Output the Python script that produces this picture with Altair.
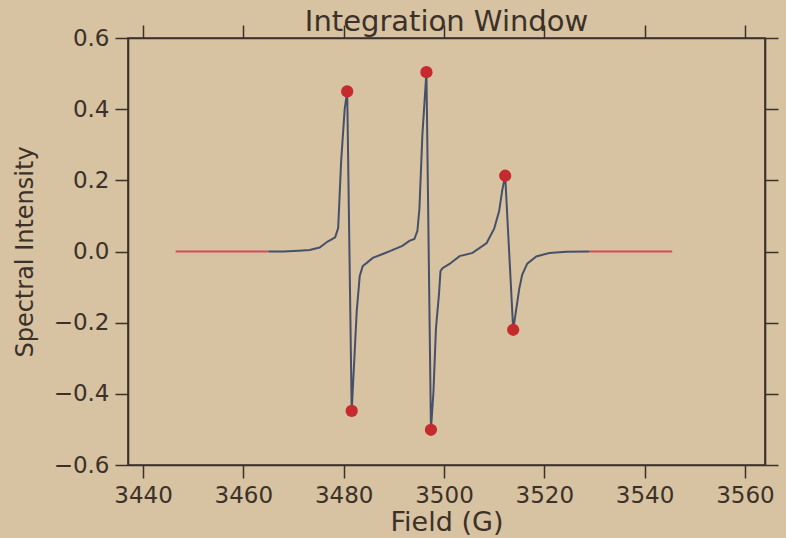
import altair as alt
import pandas as pd

# Derivative EPR spectrum inside the integration window
window_field = [
    3465.0, 3468.0, 3471.0, 3473.2, 3475.2, 3476.8, 3477.6, 3478.3, 3478.9,
    3479.5, 3480.2, 3480.7, 3481.6, 3482.2, 3482.6, 3483.2, 3483.8, 3484.6,
    3485.8, 3487.8, 3489.2, 3491.7, 3493.1, 3494.1, 3494.7, 3495.1, 3495.7,
    3496.5, 3497.4, 3497.9, 3498.4, 3499.0, 3499.3, 3499.7, 3501.1, 3503.1,
    3505.7, 3508.5, 3510.0, 3511.0, 3511.6, 3512.2, 3513.8, 3515.0, 3515.6,
    3516.6, 3518.4, 3521.0, 3524.4, 3529.0,
]
window_intensity = [
    0.000, 0.000, 0.002, 0.004, 0.011, 0.028, 0.034, 0.040, 0.066,
    0.255, 0.400, 0.450, -0.448, -0.281, -0.168, -0.069, -0.041, -0.032,
    -0.018, -0.007, 0.001, 0.016, 0.030, 0.035, 0.058, 0.120, 0.330,
    0.504, -0.501, -0.394, -0.216, -0.120, -0.055, -0.047, -0.035, -0.013,
    -0.004, 0.024, 0.064, 0.114, 0.171, 0.213, -0.220, -0.105, -0.065,
    -0.034, -0.014, -0.004, -0.001, 0.000,
]

# Baseline outside the window (two flat segments)
tail_segment = ["left", "left", "right", "right"]
tail_field = [3446.5, 3465.0, 3529.0, 3545.5]
tail_intensity = [0.0, 0.0, 0.0, 0.0]

# Detected extrema
extrema_field = [3480.7, 3481.6, 3496.5, 3497.4, 3512.2, 3513.8]
extrema_intensity = [0.450, -0.448, 0.504, -0.501, 0.213, -0.220]

x_ticks = [3440, 3460, 3480, 3500, 3520, 3540, 3560]
y_ticks = [-0.6, -0.4, -0.2, 0.0, 0.2, 0.4, 0.6]

window_df = pd.DataFrame({"field": window_field, "intensity": window_intensity})
tail_df = pd.DataFrame({"segment": tail_segment, "field": tail_field,
                        "intensity": tail_intensity})
extrema_df = pd.DataFrame({"field": extrema_field, "intensity": extrema_intensity})

ink = "#3b3128"
paper = "#d7c2a2"
font = "DejaVu Sans"

x_scale = alt.Scale(domain=[3437, 3564], nice=False, zero=False)
y_scale = alt.Scale(domain=[-0.6, 0.6], nice=False, zero=False)

x_main = alt.X("field:Q", scale=x_scale,
               axis=alt.Axis(values=x_ticks, format="d", title="Field (G)",
                             titleFontSize=27, titlePadding=2))
y_main = alt.Y("intensity:Q", scale=y_scale,
               axis=alt.Axis(values=y_ticks, format=".1f",
                             title="Spectral Intensity", titleFontSize=24,
                             titlePadding=16))

tails = alt.Chart(tail_df).mark_line(color="#cf4d5c", strokeWidth=2).encode(
    x=x_main, y=y_main, detail="segment:N"
)

spectrum = alt.Chart(window_df).mark_line(color="#47506a", strokeWidth=2).encode(
    x=alt.X("field:Q", scale=x_scale, axis=None),
    y=alt.Y("intensity:Q", scale=y_scale, axis=None),
    order="field:Q",
)

# Extrema markers; this layer also carries the mirrored top/right tick axes
extrema = alt.Chart(extrema_df).mark_circle(
    color="#c52a2e", size=150, opacity=1
).encode(
    x=alt.X("field:Q", scale=x_scale,
            axis=alt.Axis(orient="top", values=x_ticks, labels=False, title=None)),
    y=alt.Y("intensity:Q", scale=y_scale,
            axis=alt.Axis(orient="right", values=y_ticks, labels=False, title=None)),
)

chart = (
    alt.layer(tails, spectrum, extrema)
    .resolve_axis(x="independent", y="independent")
    .properties(
        width=637,
        height=427,
        background=paper,
        padding={"left": 128, "top": 38, "right": 21, "bottom": 73},
        autosize=alt.AutoSizeParams(type="none"),
        title=alt.TitleParams(
            "Integration Window", font=font, fontSize=29, fontWeight="normal",
            color=ink, frame="group", anchor="middle", offset=6, dy=19,
        ),
    )
    .configure_view(stroke=ink, strokeWidth=1.6)
    .configure_axis(
        grid=False,
        labelFont=font, labelFontSize=23, labelColor=ink, labelPadding=6,
        titleFont=font, titleFontSize=25, titleFontWeight="normal", titleColor=ink,
        tickSize=13, tickColor=ink, tickWidth=1.5,
        domainColor=ink, domainWidth=1.6,
    )
)

chart.save("out.html", embed_options={"renderer": "svg", "actions": False})
